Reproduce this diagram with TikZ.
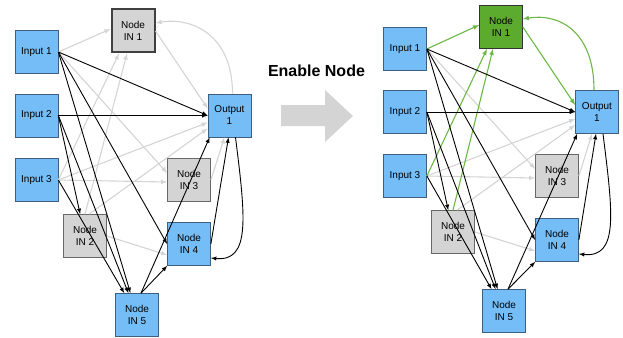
\documentclass[tikz,border=0pt]{standalone}
\usepackage{fontspec}
\setmainfont{Liberation Sans}
\definecolor{nodeblue}{RGB}{116,189,247}
\definecolor{blueline}{RGB}{62,96,128}
\definecolor{nodegray}{RGB}{212,212,212}
\definecolor{grayline}{RGB}{104,104,104}
\definecolor{offline}{RGB}{212,212,212}
\definecolor{nodegreen}{RGB}{92,170,46}
\definecolor{onlink}{RGB}{108,184,68}
\begin{document}
\begin{tikzpicture}[
    x=1pt, y=-1pt,
    unit/.style={rectangle, draw=blueline, line width=0.7pt, fill=nodeblue, minimum size=43pt, inner sep=0pt, align=center, font=\fontsize{10}{12}\selectfont},
    hidden/.style={unit, draw=grayline, fill=nodegray},
    active/.style={unit, draw=black!80, fill=nodegreen},
    link/.style={->, >=latex, line width=0.9pt},
    offlink/.style={link, draw=offline, line width=1.1pt},
    greenlink/.style={link, draw=onlink, line width=1.1pt}
]
    \useasboundingbox (0,0) rectangle (623,337);

    % before
    \node[unit] (in1) at (36.5,52) {Input 1};
    \node[unit] (in2) at (36.5,115.5) {Input 2};
    \node[unit] (in3) at (36.5,180) {Input 3};
    \node[hidden, line width=2pt, draw=black!75] (n1) at (133,31) {Node\\IN 1};
    \node[unit] (out) at (229.5,115.5) {Output\\1};
    \node[hidden] (n3) at (189,180) {Node\\IN 3};
    \node[hidden] (n2) at (85,236) {Node\\IN 2};
    \node[unit] (n4) at (189,244) {Node\\IN 4};
    \node[unit] (n5) at (137,315) {Node\\IN 5};

    \draw[offlink] (in1.east) -- ([yshift=2pt]n1.west);
    \draw[offlink] (in3.east) -- ([xshift=-14pt]n1.south);
    \draw[offlink] (n2.north) -- ([xshift=-6pt]n1.south);
    \draw[offlink] (n1.east) -- ([yshift=7pt]out.west);
    \draw[offlink] ([xshift=3pt]out.north) .. controls +(0,-60) and +(35,-6) .. ([yshift=8pt]n1.east);
    \draw[offlink] (in1.east) -- ([yshift=7pt]n3.west);
    \draw[offlink] (in3.east) -- ([yshift=-2pt]n3.west);
    \draw[offlink] (in3.east) -- ([yshift=-7pt]out.west);
    \draw[offlink] ([xshift=4pt]n2.north) -- ([yshift=-13pt]out.west);
    \draw[offlink] (n2.east) -- ([yshift=-11pt]n4.west);
    \draw[offlink] (n3.east) -- ([xshift=-5pt]out.south);

    \draw[link] (in1.east) -- (out.west);
    \draw[link] (in2.east) -- (out.west);
    \draw[link] (in2.east) -- (n2);
    \draw[link] (in1.east) -- (n5);
    \draw[link] (in2.east) -- (n5);
    \draw[link] (in3.east) -- (n5);
    \draw[link] (in1.east) -- (n4.west);
    \draw[link] ([xshift=4pt]n5.north) -- ([xshift=2pt]out.south west);
    \draw[link] ([xshift=4pt]n5.north) -- (n4.south west);
    \draw[link] (n4.east) -- ([xshift=-1pt]out.south);
    \draw[link] ([xshift=6pt]out.south) .. controls +(10,80) and +(40,4) .. ([yshift=-14pt]n4.east);

    % switch
    \fill[nodegray] (281,105) -- (325,105) -- (325,90) -- (353,116) -- (325,142) -- (325,126) -- (281,126) -- cycle;
    \node[font=\fontsize{16}{18}\selectfont\bfseries] (title) at (316.5,71) {Enable Node};

    % after
    \node[unit] (in1b) at (405,49) {Input 1};
    \node[unit] (in2b) at (405,112) {Input 2};
    \node[unit] (in3b) at (405,176) {Input 3};
    \node[active] (n1b) at (501,27) {Node\\IN 1};
    \node[unit] (outb) at (597,112) {Output\\1};
    \node[hidden] (n3b) at (557,176) {Node\\IN 3};
    \node[hidden] (n2b) at (453,232) {Node\\IN 2};
    \node[unit] (n4b) at (557,240) {Node\\IN 4};
    \node[unit] (n5b) at (504,311) {Node\\IN 5};

    \draw[offlink] (in1b.east) -- ([yshift=7pt]n3b.west);
    \draw[offlink] (in3b.east) -- ([yshift=-2pt]n3b.west);
    \draw[offlink] (in3b.east) -- ([yshift=-7pt]outb.west);
    \draw[offlink] ([xshift=4pt]n2b.north) -- ([yshift=-13pt]outb.west);
    \draw[offlink] (n2b.east) -- ([yshift=-11pt]n4b.west);
    \draw[offlink] (n3b.east) -- ([xshift=-5pt]outb.south);

    \draw[greenlink] (in1b.east) -- ([yshift=2pt]n1b.west);
    \draw[greenlink] (in3b.east) -- ([xshift=-14pt]n1b.south);
    \draw[greenlink] (n2b.north) -- ([xshift=-8pt]n1b.south);
    \draw[greenlink] (n1b.east) -- ([yshift=7pt]outb.west);
    \draw[greenlink] ([xshift=-3pt]outb.north) .. controls +(0,-60) and +(35,-6) .. ([yshift=8pt]n1b.east);

    \draw[link] (in1b.east) -- (outb.west);
    \draw[link] (in2b.east) -- (outb.west);
    \draw[link] (in2b.east) -- (n2b);
    \draw[link] (in1b.east) -- (n5b);
    \draw[link] (in2b.east) -- (n5b);
    \draw[link] (in3b.east) -- (n5b);
    \draw[link] (in1b.east) -- (n4b.west);
    \draw[link] ([xshift=4pt]n5b.north) -- ([xshift=2pt]outb.south west);
    \draw[link] ([xshift=4pt]n5b.north) -- (n4b.south west);
    \draw[link] (n4b.east) -- ([xshift=-1pt]outb.south);
    \draw[link] ([xshift=6pt]outb.south) .. controls +(10,80) and +(40,4) .. ([yshift=-14pt]n4b.east);
\end{tikzpicture}
\end{document}
